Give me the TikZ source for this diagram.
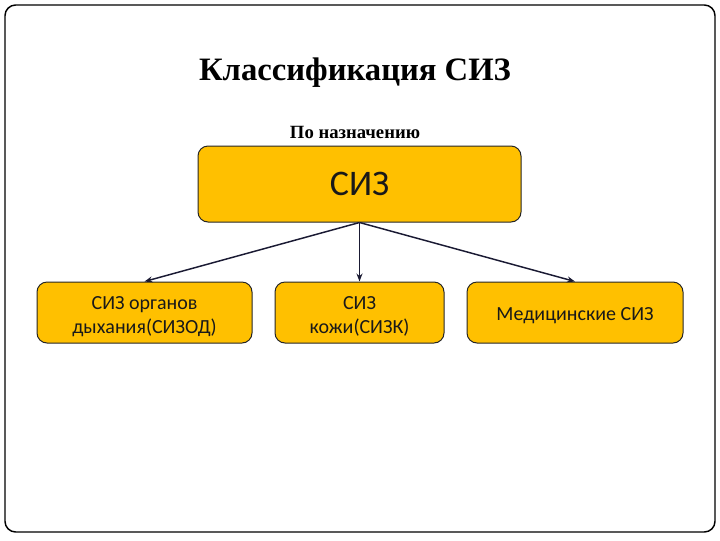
\documentclass[tikz,border=0pt]{standalone}
\usepackage{fontspec}
\setmainfont{Liberation Serif}
\newfontfamily\boxfont{Carlito}
\usetikzlibrary{arrows.meta}
\definecolor{boxfill}{HTML}{FFC000}
\definecolor{arrowc}{HTML}{1A1A33}
\begin{document}
\begin{tikzpicture}[x=0.75pt,y=-0.75pt,
  box/.style={draw=black!85, fill=boxfill, rounded corners=7.5pt, line width=0.75pt, align=center, inner sep=0pt, text=black!90, font=\boxfont\fontsize{15}{18}\selectfont},
  conn/.style={-{Stealth[length=6pt,width=4.5pt]}, line width=1.1pt, draw=arrowc}]
\useasboundingbox (0,0) rectangle (720,540);
\node (frame) [draw, line width=1.1pt, rounded corners=8pt, minimum width=532.5pt, minimum height=395.25pt, inner sep=0pt] at (360,268.5) {};
\node (title) at (355,73) {\fontsize{24.5}{28}\selectfont\bfseries Классификация СИЗ};
\node (sub) at (355,132) {\fontsize{14}{16}\selectfont\bfseries По назначению};
\node (main) [box, minimum width=242.25pt, minimum height=57pt, font=\boxfont\fontsize{27}{30}\selectfont] at (359.5,184) {СИЗ};
\node (c1) [box, minimum width=161.25pt, minimum height=45.75pt] at (144.5,312.5) {\raisebox{-3pt}[\height][\depth]{\parbox{150pt}{\centering СИЗ органов\\дыхания(СИЗОД)}}};
\node (c2) [box, minimum width=126.75pt, minimum height=45.75pt] at (359.5,312.5) {\raisebox{-3pt}[\height][\depth]{\parbox{120pt}{\centering СИЗ\\кожи(СИЗК)}}};
\node (c3) [box, minimum width=162pt, minimum height=45.75pt] at (575,312.5) {\raisebox{-2pt}[\height][\depth]{Медицинские СИЗ}};
\draw[conn] (main.south) -- (c1.north);
\draw[conn] (main.south) -- (c2.north);
\draw[conn] (main.south) -- (c3.north);
\end{tikzpicture}
\end{document}
